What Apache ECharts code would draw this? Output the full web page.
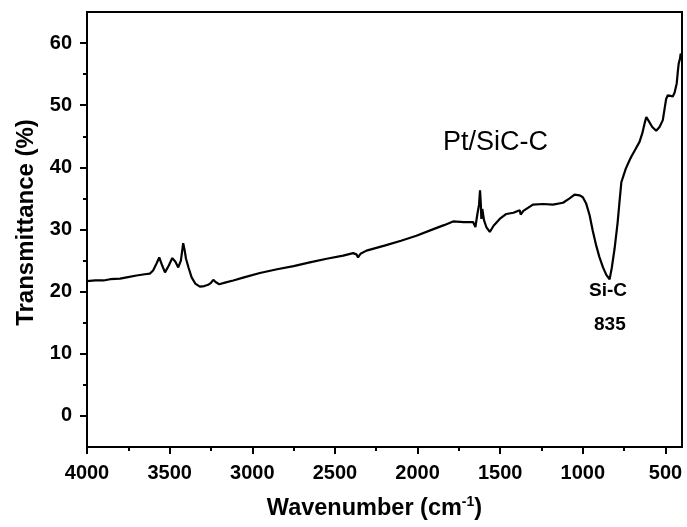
<!DOCTYPE html>
<html>
<head>
<meta charset="utf-8">
<script src="https://cdn.jsdelivr.net/npm/echarts@6/dist/echarts.min.js"></script>
<style>
  html, body { margin: 0; padding: 0; background: #fff; }
  #ftir-chart { width: 687px; height: 527px; }
</style>
</head>
<body>
<div id="ftir-chart"></div>
<script>
// FTIR spectrum, Pt/SiC-C
const wavenumber = [
  4000, 3950, 3900, 3860, 3800, 3760, 3700, 3650, 3620, 3600,
  3580, 3563, 3545, 3528, 3505, 3484, 3465, 3448, 3432, 3418,
  3410, 3401, 3385, 3367, 3345, 3317, 3290, 3267, 3250, 3236,
  3220, 3200, 3160, 3115, 3050, 2954, 2850, 2750, 2652, 2550,
  2450, 2390, 2370, 2360, 2345, 2309, 2200, 2100, 2007, 1900,
  1840, 1785, 1720, 1664, 1650, 1638, 1628, 1622, 1617, 1614,
  1608, 1598, 1584, 1563, 1540, 1503, 1463, 1420, 1382, 1376,
  1360, 1302, 1240, 1181, 1120, 1080, 1050, 1020, 1000, 980,
  959, 940, 919, 900, 878, 858, 838, 825, 808, 790,
  778, 767, 740, 718, 707, 680, 657, 640, 625, 616,
  600, 580, 556, 536, 516, 505, 496, 486, 470, 456,
  445, 432, 425, 420, 412, 408, 405
];
const transmittance = [
  21.7, 21.8, 21.8, 22.0, 22.1, 22.3, 22.6, 22.8, 22.9, 23.4,
  24.5, 25.5, 24.2, 23.1, 24.2, 25.4, 24.8, 23.9, 25.0, 27.8,
  26.8, 25.3, 23.8, 22.3, 21.3, 20.8, 20.9, 21.1, 21.4, 21.9,
  21.5, 21.2, 21.5, 21.8, 22.3, 23.0, 23.6, 24.1, 24.7, 25.3,
  25.8, 26.2, 26.0, 25.5, 26.1, 26.6, 27.4, 28.2, 29.0, 30.1,
  30.7, 31.3, 31.2, 31.2, 30.4, 32.5, 34.0, 36.3, 34.0, 31.7,
  33.3, 31.5, 30.4, 29.6, 30.6, 31.7, 32.5, 32.7, 33.1, 32.4,
  33.0, 34.0, 34.1, 34.0, 34.3, 35.0, 35.6, 35.5, 35.2, 34.2,
  32.3, 29.8, 27.4, 25.6, 23.9, 22.7, 22.0, 23.8, 26.9, 31.0,
  34.5, 37.6, 39.8, 41.1, 41.7, 43.0, 44.1, 45.5, 47.2, 48.1,
  47.4, 46.5, 45.9, 46.5, 47.6, 49.5, 51.0, 51.6, 51.5, 51.4,
  52.0, 53.5, 55.5, 56.7, 57.5, 58.3, 58.0
];

const xMajorTicks = [500, 1000, 1500, 2000, 2500, 3000, 3500, 4000];
const xMinorTicks = [750, 1250, 1750, 2250, 2750, 3250, 3750];
const yMajorTicks = [0, 10, 20, 30, 40, 50, 60];
const yMinorTicks = [5, 15, 25, 35, 45, 55];

document.addEventListener("DOMContentLoaded", function () {
  const font = "Liberation Sans, Arial, sans-serif";
  let chart = echarts.init(document.getElementById("ftir-chart"), null, {
    renderer: "canvas",
  });

  let points = wavenumber.map((w, i) => [w, transmittance[i]]);
  let plain = (v) => String(v);

  let baseX = {
    type: "value",
    inverse: true,
    min: 400,
    max: 4000,
    position: "bottom",
    splitLine: { show: false },
  };
  let baseY = {
    type: "value",
    min: -5,
    max: 65,
    position: "left",
    splitLine: { show: false },
  };

  let option = {
    animation: false,
    backgroundColor: "#fff",
    grid: {
      left: 87,
      right: 5,
      top: 12,
      bottom: 80,
      show: true,
      borderColor: "#000",
      borderWidth: 2,
      outerBoundsMode: "none",
    },
    xAxis: [
      Object.assign({}, baseX, {
        name: "{t|Wavenumber (cm}{s|-1}{t|)}",
        nameLocation: "middle",
        nameGap: 48,
        nameTextStyle: {
          padding: [0, 20, 0, 0],
          rich: {
            t: { fontSize: 23.5, fontWeight: "bold", fontFamily: font, color: "#000", lineHeight: 28 },
            s: { fontSize: 14, fontWeight: "bold", fontFamily: font, color: "#000", verticalAlign: "top", lineHeight: 14 },
          },
        },
        axisLine: { onZero: false, lineStyle: { color: "#000", width: 2 } },
        axisTick: {
          customValues: xMajorTicks,
          length: 7,
          lineStyle: { color: "#000", width: 2 },
        },
        axisLabel: {
          customValues: xMajorTicks,
          formatter: plain,
          margin: 16,
          fontSize: 20,
          fontWeight: "bold",
          fontFamily: font,
          color: "#000",
        },
      }),
      Object.assign({}, baseX, {
        axisLine: { show: false, onZero: false },
        axisTick: {
          customValues: xMinorTicks,
          length: 4,
          lineStyle: { color: "#000", width: 2 },
        },
        axisLabel: { show: false },
      }),
    ],
    yAxis: [
      Object.assign({}, baseY, {
        name: "Transmittance (%)",
        nameLocation: "middle",
        nameGap: 48,
        nameTextStyle: {
          fontSize: 24,
          fontWeight: "bold",
          fontFamily: font,
          color: "#000",
          padding: [0, 0, 0, 14],
        },
        axisLine: { onZero: false, lineStyle: { color: "#000", width: 2 } },
        axisTick: {
          customValues: yMajorTicks,
          length: 7,
          lineStyle: { color: "#000", width: 2 },
        },
        axisLabel: {
          customValues: yMajorTicks,
          formatter: plain,
          margin: 15,
          fontSize: 20,
          fontWeight: "bold",
          fontFamily: font,
          color: "#000",
        },
      }),
      Object.assign({}, baseY, {
        axisLine: { show: false, onZero: false },
        axisTick: {
          customValues: yMinorTicks,
          length: 4,
          lineStyle: { color: "#000", width: 2 },
        },
        axisLabel: { show: false },
      }),
    ],
    graphic: [
      {
        type: "text",
        left: 443,
        top: 129,
        style: { text: "Pt/SiC-C", fontSize: 27, fontFamily: font, fill: "#000" },
      },
      {
        type: "text",
        left: 589,
        top: 281,
        style: { text: "Si-C", fontSize: 19, fontWeight: "bold", fontFamily: font, fill: "#000" },
      },
      {
        type: "text",
        left: 594,
        top: 315,
        style: { text: "835", fontSize: 19, fontWeight: "bold", fontFamily: font, fill: "#000" },
      },
    ],
    series: [
      {
        name: "Pt/SiC-C",
        type: "line",
        xAxisIndex: 0,
        yAxisIndex: 0,
        showSymbol: false,
        lineStyle: { color: "#000", width: 2.2 },
        data: points,
      },
    ],
  };
  option && chart.setOption(option);
});
</script>
</body>
</html>
